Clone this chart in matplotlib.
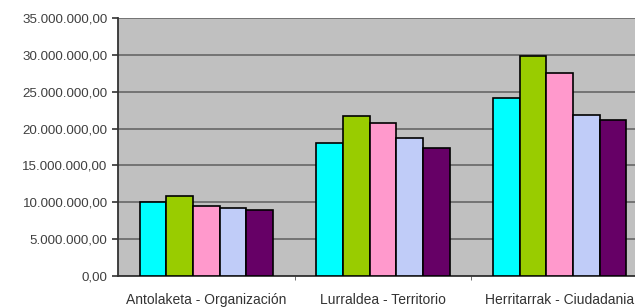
import numpy as np
import matplotlib.pyplot as plt
from matplotlib.ticker import FuncFormatter

categories = ["Antolaketa - Organización", "Lurraldea - Territorio", "Herritarrak - Ciudadania"]
serie_1 = [10.0e6, 18.0e6, 24.1e6]
serie_2 = [10.9e6, 21.7e6, 29.8e6]
serie_3 = [9.5e6, 20.7e6, 27.5e6]
serie_4 = [9.2e6, 18.7e6, 21.9e6]
serie_5 = [8.95e6, 17.4e6, 21.2e6]
colors = ["#00FFFF", "#99CC00", "#FF99CC", "#C0CCF8", "#660066"]

plt.rcParams["font.family"] = ["Liberation Sans", "DejaVu Sans"]

W, H = 635, 307
fig = plt.figure(figsize=(W / 100, H / 100), dpi=100)
ax = fig.add_axes([118 / W, 31 / H, 530 / W, 258 / H])
ax.set_facecolor("#C0C0C0")

x = np.arange(len(categories))
bw = 0.151
series = [serie_1, serie_2, serie_3, serie_4, serie_5]
for i, (vals, c) in enumerate(zip(series, colors)):
    ax.bar(x + (i - 2) * bw, vals, width=bw, color=c, edgecolor="black", linewidth=1.2, zorder=3)

ax.set_xlim(-0.5, 2.5)
ax.set_ylim(0, 35e6)
ax.set_yticks(np.arange(0, 35e6 + 1, 5e6))
ax.yaxis.set_major_formatter(FuncFormatter(
    lambda v, p: f"{v:,.2f}".replace(",", "X").replace(".", ",").replace("X", ".")))
ax.grid(axis="y", color="#6E6E6E", linewidth=1.3, zorder=1)

ax.set_xticks(x)
ax.set_xticklabels(categories)
ax.set_xticks([0.5, 1.5], minor=True)
ax.tick_params(axis="x", which="major", length=0, pad=12, labelsize=10, labelcolor="#333333")
ax.tick_params(axis="x", which="minor", length=3, color="#555555")
ax.tick_params(axis="y", length=4, width=1.2, color="#333333", labelsize=9.6, labelcolor="#404040")

for s in ["top", "right"]:
    ax.spines[s].set_visible(False)
ax.spines["left"].set_color("#333333")
ax.spines["left"].set_linewidth(1.3)
ax.spines["bottom"].set_color("#333333")
ax.spines["bottom"].set_linewidth(1.3)

fig.savefig("out.png", dpi=100)
